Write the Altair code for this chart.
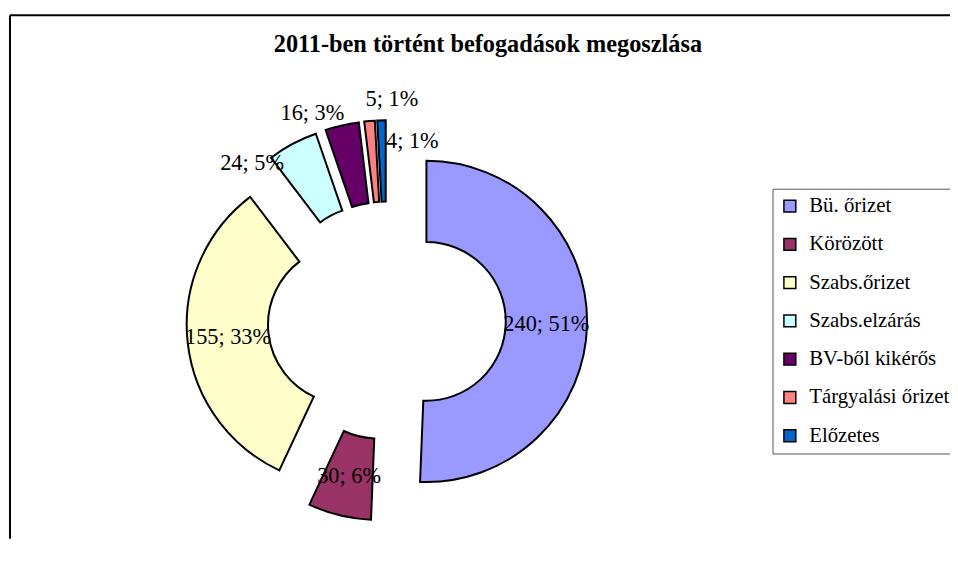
import altair as alt
import pandas as pd

# ---- data ----
categories = ["Bü. őrizet", "Körözött", "Szabs.őrizet", "Szabs.elzárás",
              "BV-ből kikérős", "Tárgyalási őrizet", "Előzetes"]
values = [240, 30, 155, 24, 16, 5, 4]
colors = ["#9999FF", "#993366", "#FFFFCC", "#CCFFFF", "#660066", "#FF8080", "#0066CC"]
title_text = "2011-ben történt befogadások megoszlása"

# ---- layout / style ----
W, H = 948, 528
CX, CY = 380, 308          # donut centre (view px)
EXPLODE = 40               # radial explosion of each slice
R_OUT, R_IN = 162, 80
R_LABEL = (R_OUT + R_IN) / 2
FONT = "Liberation Serif"
# manual nudges of the outside labels (px), as in the original chart
label_nudge = {"Szabs.elzárás": (-60, -17), "BV-ből kikérős": (-39, -52),
               "Tárgyalási őrizet": (19, -63), "Előzetes": (30, -20)}

total = sum(values)
df = pd.DataFrame({
    "cat": categories,
    "value": values,
    "idx": list(range(len(categories))),
    "ndx": [label_nudge.get(c, (0, 0))[0] for c in categories],
    "ndy": [label_nudge.get(c, (0, 0))[1] for c in categories],
})

base = (
    alt.Chart(df)
    .transform_window(cum="sum(value)", sort=[alt.SortField("idx")], frame=[None, 0])
    .transform_joinaggregate(total="sum(value)")
    .transform_calculate(
        start="datum.cum - datum.value",
        mid="(datum.cum - datum.value/2) / datum.total * 2 * PI",
    )
    .transform_calculate(
        px=f"{CX} + {EXPLODE} * sin(datum.mid)",
        py=f"{CY} - {EXPLODE} * cos(datum.mid)",
    )
)

arcs = base.mark_arc(radius=R_OUT, radius2=R_IN, stroke="black", strokeWidth=2).encode(
    theta=alt.Theta("start:Q", scale=alt.Scale(domain=[0, total], zero=True, nice=False)),
    theta2="cum:Q",
    x=alt.X("px:Q", scale=None),
    y=alt.Y("py:Q", scale=None),
    color=alt.Color(
        "cat:N",
        scale=alt.Scale(domain=categories, range=colors),
        legend=alt.Legend(
            title=None, orient="none", legendX=769, legendY=175,
            symbolType="square", symbolSize=144, symbolStrokeColor="black",
            symbolStrokeWidth=1.5, symbolOpacity=1,
            labelFont=FONT, labelFontSize=21, labelColor="black", labelLimit=400,
            labelOffset=9, rowPadding=16.6, padding=7,
            strokeColor="#555555", fillColor="white",
        ),
    ),
)

labels = base.transform_calculate(
    lx=f"datum.px + {R_LABEL} * sin(datum.mid) + datum.ndx",
    ly=f"datum.py - {R_LABEL} * cos(datum.mid) + datum.ndy",
    lab="datum.value + '; ' + format(datum.value / datum.total, '.0%')",
).mark_text(font=FONT, fontSize=22.5, color="black", baseline="middle", align="center").encode(
    x=alt.X("lx:Q", scale=None),
    y=alt.Y("ly:Q", scale=None),
    text="lab:N",
)

one = pd.DataFrame({"t": [title_text]})
title = alt.Chart(one).mark_text(
    font=FONT, fontSize=24.5, fontWeight="bold", color="black", align="center", baseline="alphabetic"
).encode(x=alt.value(482), y=alt.value(37), text="t:N")

frame_top = alt.Chart(one).mark_rule(color="black", strokeWidth=2).encode(
    x=alt.value(0), x2=alt.value(W), y=alt.value(0))
frame_left = alt.Chart(one).mark_rule(color="black", strokeWidth=2).encode(
    x=alt.value(0), y=alt.value(0), y2=alt.value(H))

chart = alt.layer(frame_top, frame_left, arcs, labels, title).properties(
    width=W, height=H,
    autosize=alt.AutoSizeParams(type="none"),
    padding={"left": 2, "top": 5, "right": 0, "bottom": 0},
    background="white",
).configure_view(stroke=None)

chart.save("out.html", embed_options={"renderer": "svg", "actions": False})
